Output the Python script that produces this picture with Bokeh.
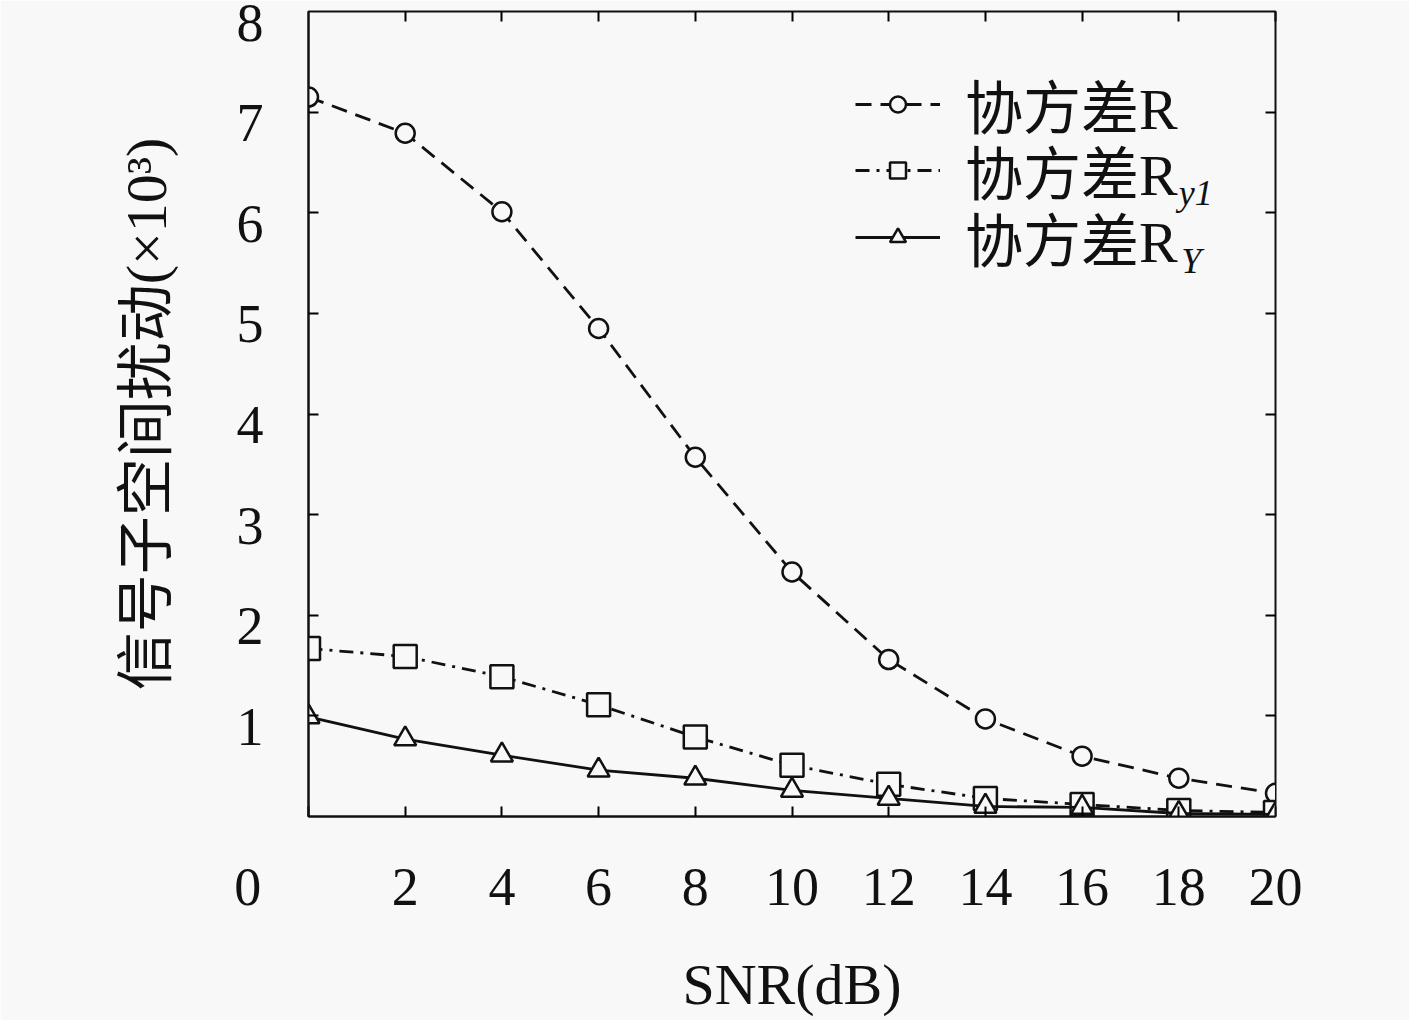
from bokeh.plotting import figure
from bokeh.models import Range1d, LinearAxis, FixedTicker, Label, Legend, LegendItem
from bokeh.embed import file_html
from bokeh.resources import INLINE

# ---- data ----
snr = [0, 2, 4, 6, 8, 10, 12, 14, 16, 18, 20]
cov_R = [7.15, 6.79, 6.01, 4.85, 3.57, 2.43, 1.56, 0.97, 0.60, 0.38, 0.23]
cov_Ry1 = [1.67, 1.59, 1.39, 1.11, 0.79, 0.51, 0.32, 0.18, 0.12, 0.06, 0.04]
cov_RY = [0.99, 0.77, 0.61, 0.46, 0.38, 0.26, 0.18, 0.10, 0.09, 0.03, 0.02]
x_ticks = [0, 2, 4, 6, 8, 10, 12, 14, 16, 18, 20]
y_ticks = [1, 2, 3, 4, 5, 6, 7]
y_tick_labels = [1, 2, 3, 4, 5, 6, 7, 8]
origin_label = "0"
legend_main = ["协方差R", "协方差R", "协方差R"]
legend_sub = ["", "y1", "Y"]
x_title = "SNR(dB)"
y_title = "信号子空间扰动(×10³)"

BG = "#f8f8f8"
INK = "#111111"
SERIF = "Liberation Serif"
MIXED = "Liberation Serif, Noto Sans CJK SC"
NBSP = "\u00a0"

p = figure(width=1409, height=1020, x_range=Range1d(0, 20), y_range=Range1d(0, 8),
           output_backend="svg", toolbar_location=None,
           min_border_left=308, min_border_right=134, min_border_top=11, min_border_bottom=204,
           background_fill_color=BG, border_fill_color=BG,
           outline_line_color=INK, outline_line_width=2)
p.grid.visible = False
p.extra_y_ranges = {"lab": Range1d(0.11, 8.11)}

def blank(ticks):
    return {t: "" for t in ticks}

# bottom axis; the origin "0" sits to the left of the corner (padded with no-break spaces)
xa = p.xaxis[0]
xa.ticker = FixedTicker(ticks=x_ticks)
xa.major_label_overrides = {0: origin_label + NBSP * 9}
xa.major_tick_in = 10
xa.major_tick_out = 0
xa.minor_tick_line_color = None
xa.axis_line_width = 2
xa.axis_line_color = INK
xa.major_tick_line_width = 2
xa.major_label_text_font = SERIF
xa.major_label_text_font_size = "54px"
xa.major_label_text_color = INK
xa.major_label_standoff = 40
xa.axis_label = x_title
xa.axis_label_text_font = SERIF
xa.axis_label_text_font_size = "58px"
xa.axis_label_text_font_style = "normal"
xa.axis_label_text_color = INK
xa.axis_label_standoff = 32

# left axis: ticks only
ya = p.yaxis[0]
ya.ticker = FixedTicker(ticks=y_ticks)
ya.major_tick_in = 10
ya.major_tick_out = 0
ya.minor_tick_line_color = None
ya.axis_line_width = 2
ya.axis_line_color = INK
ya.major_tick_line_width = 2
ya.major_label_overrides = blank(y_ticks)
ya.major_label_text_font_size = "2px"
ya.major_label_standoff = 0

# left label axis: labels sit slightly below their ticks
lab = LinearAxis(y_range_name="lab", ticker=FixedTicker(ticks=y_tick_labels),
                 axis_line_color=None, major_tick_line_color=None, minor_tick_line_color=None,
                 major_tick_in=0, major_tick_out=0,
                 major_label_text_font=SERIF, major_label_text_font_size="54px",
                 major_label_text_color=INK, major_label_standoff=45,
                 axis_label=y_title, axis_label_text_font=MIXED,
                 axis_label_text_font_size="58px", axis_label_text_font_style="normal",
                 axis_label_text_color=INK, axis_label_standoff=55)
p.add_layout(lab, "left")

# top and right axes (ticks only)
top = LinearAxis(ticker=FixedTicker(ticks=x_ticks[1:]), major_tick_in=10, major_tick_out=0,
                 minor_tick_line_color=None, major_label_overrides=blank(x_ticks[1:]),
                 major_label_text_font_size="2px",
                 major_label_standoff=0, axis_line_color=INK, major_tick_line_width=2)
right = LinearAxis(ticker=FixedTicker(ticks=y_ticks), major_tick_in=10, major_tick_out=0,
                   minor_tick_line_color=None, major_label_overrides=blank(y_ticks),
                   major_label_text_font_size="2px",
                   major_label_standoff=0, axis_line_color=INK, major_tick_line_width=2)
p.add_layout(top, "above")
p.add_layout(right, "right")

# series
l1 = p.line(snr, cov_R, line_color=INK, line_width=2.8, line_dash="16 9")
s1 = p.scatter(snr, cov_R, marker="circle", size=19, line_color=INK, line_width=2.5, fill_color=BG)
l2 = p.line(snr, cov_Ry1, line_color=INK, line_width=2.8, line_dash="14 7 3 7")
s2 = p.scatter(snr, cov_Ry1, marker="square", size=23, line_color=INK, line_width=2.5, fill_color=BG)
l3 = p.line(snr, cov_RY, line_color=INK, line_width=2.8)
s3 = p.scatter(snr, cov_RY, marker="triangle", size=22, line_color=INK, line_width=2.5, fill_color=BG)

rows = [(legend_main[0], [l1, s1], 670), (legend_main[1], [l2, s2], 604), (legend_main[2], [l3, s3], 537)]
for text, rends, ly in rows:
    lg = Legend(items=[LegendItem(label=text, renderers=rends)],
                location=(547, ly), padding=0, margin=0, spacing=0,
                glyph_width=85, glyph_height=40, label_standoff=25,
                label_text_font=MIXED, label_text_font_size="58px", label_text_color=INK,
                border_line_alpha=0, background_fill_alpha=0)
    p.add_layout(lg)

# subscripts of the legend labels
p.add_layout(Label(x=18.0, y=6.20, text=legend_sub[1], text_align="left", text_baseline="middle",
                   text_font=SERIF, text_font_style="italic", text_font_size="36px", text_color=INK))
p.add_layout(Label(x=18.05, y=5.52, text=legend_sub[2], text_align="left", text_baseline="middle",
                   text_font=SERIF, text_font_style="italic", text_font_size="36px", text_color=INK))

open("out.html", "w").write(file_html(p, INLINE))
